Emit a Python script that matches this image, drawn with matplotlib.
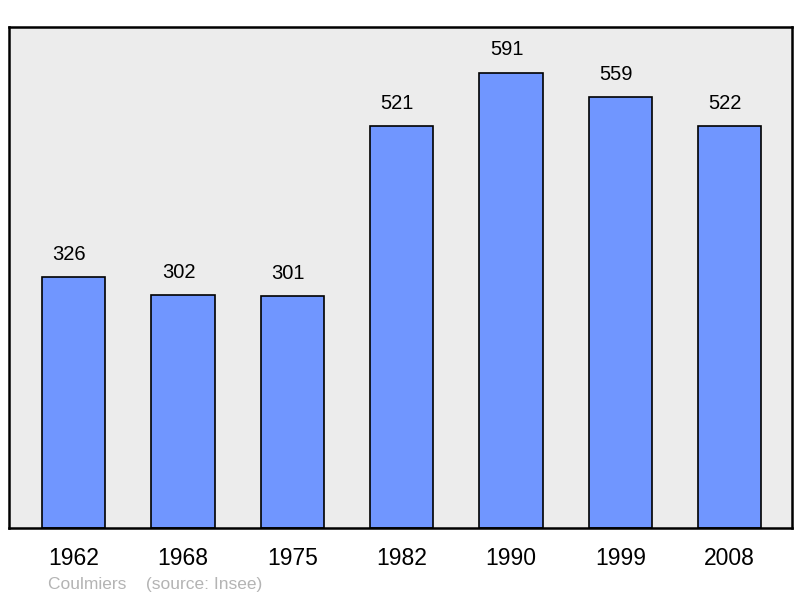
import numpy as np
import matplotlib
matplotlib.use('Agg')
import matplotlib.pyplot as plt

plt.rcParams['font.family'] = ['Liberation Sans', 'DejaVu Sans']

years = ['1962', '1968', '1975', '1982', '1990', '1999', '2008']
population = [326, 302, 301, 521, 591, 559, 522]

fig = plt.figure(figsize=(8, 5.98), dpi=100)
ax = fig.add_axes([9 / 800, 70 / 598, 783 / 800, 501 / 598])
ax.set_facecolor('#ececec')

ind = np.arange(len(years))
bars = ax.bar(ind, population, 0.58, color='#7096ff', edgecolor='black', linewidth=1.2)

for i, v in enumerate(population):
    ax.text(i - 0.04, v + 17, str(v), ha='center', va='bottom', fontsize=14.5)

ax.set_xlim(-0.59, 6.57)
ax.set_ylim(0, max(population) * 1.1)
ax.set_yticks([])
ax.set_xticks(ind)
ax.set_xticklabels(years, fontsize=16.5)
ax.tick_params(axis='x', length=0, pad=14)
for s in ax.spines.values():
    s.set_linewidth(1.8)

fig.text(48 / 800, 1 - 584 / 598, 'Coulmiers    (source: Insee)', color='#b4b4b4',
         fontsize=12.5, va='center', ha='left')

fig.savefig('out.png', dpi=100)
